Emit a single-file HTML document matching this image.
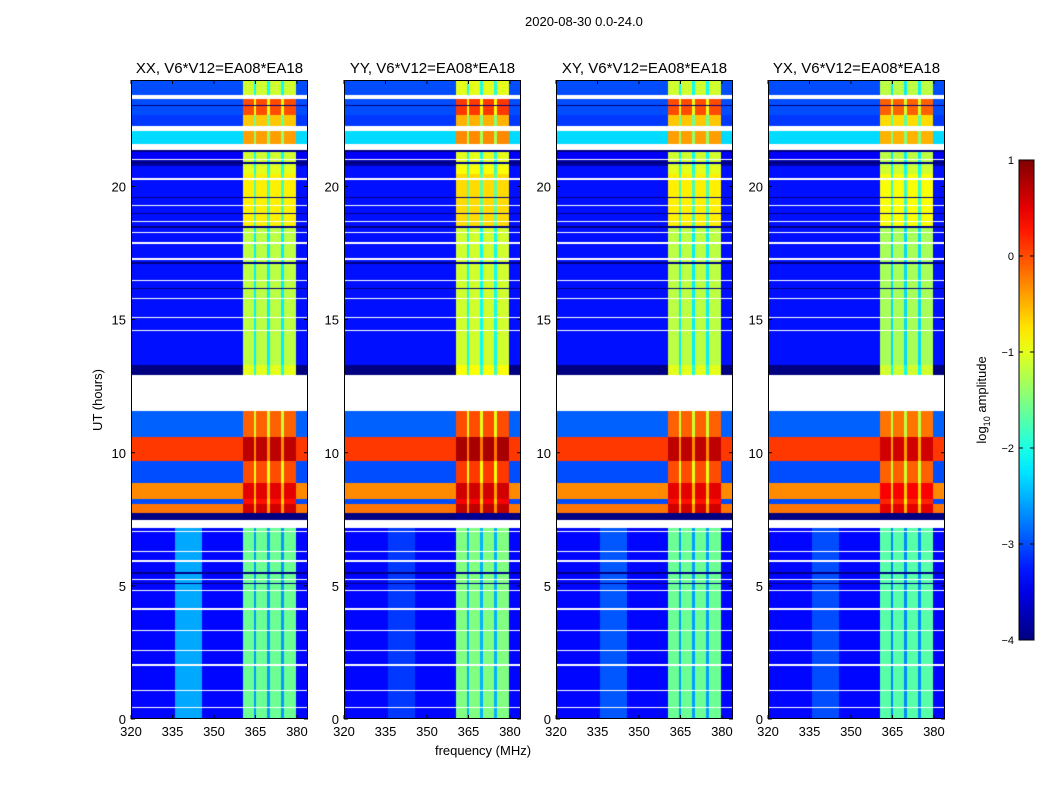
<!DOCTYPE html>
<html><head><meta charset="utf-8">
<style>
body{margin:0;background:#fff;width:1050px;height:800px;overflow:hidden;position:relative;font-family:"Liberation Sans","DejaVu Sans",sans-serif;}
.t{position:absolute;font-size:13px;color:#000;white-space:nowrap;}
canvas{position:absolute;}
</style></head>
<body>
<div class="t" style="left:525px;top:14px;">2020-08-30 0.0-24.0</div>
<svg id="axes" width="1050" height="800" style="position:absolute;left:0;top:0"></svg>
<script>
// ---- data ----
const panelTitles = ["XX, V6*V12=EA08*EA18","YY, V6*V12=EA08*EA18","XY, V6*V12=EA08*EA18","YX, V6*V12=EA08*EA18"];
const xTicks = [320,335,350,365,380];
const yTicks = [0,5,10,15,20];
const cbTicks = [1,0,-1,-2,-3,-4];
// time segments (hours): start, end, background level, band level (null = flagged/white)
const segStart = [0,   7.2, 7.5, 7.75, 8.1, 8.3, 8.9, 9.7, 10.6, 11.6, 12.95, 13.3, 18.5, 20.5, 20.8, 21.0, 21.05, 21.3, 21.4, 21.6, 22.1, 22.3, 22.7, 23.3, 23.45];
const segEnd   = [7.2, 7.5, 7.75,8.1,  8.3, 8.9, 9.7, 10.6,11.6, 12.95,13.3,  18.5, 20.5, 20.8, 21.0, 21.05,21.3, 21.4, 21.6, 22.1, 22.3, 22.7, 23.3, 23.45,24];
const segBg    = [-3.35,null,-4.3,-0.2,-3.0,-0.3,-3.0,0.1,-2.9, null, -4.0, -3.3, -3.3, -3.3, -3.8, null, -3.4, -4.5, null, -2.3, null, -3.1, -3.0, null, -3.0];
const segBand  = [-1.6,null,-4.0,0.6, 0.3, 0.5, 0.0,  0.7, -0.1, null, -1.0, -1.2, -0.8, -1.0, -1.1, null, -1.1, -4.5, null, -0.4, null, -0.6, 0.0,  null, -1.1];
const whiteLines = [0.45,1.1,2.05,2.6,3.35,4.15,4.85,5.25,5.95,6.3,7.05,14.6,15.1,15.8,16.5,17.3,17.9,18.3,18.7,19.3,20.3];
const blackLines = [5.1,5.5,16.2,17.15,18.5,19.0,19.6,20.9,23.05];
const bandLo = 360.5, bandHi = 380;
const darkChannels = [365,370,375];
const stripeLo = 336, stripeHi = 346;
const stripeStrength = [0.8,0.25,0.4,0.35];
const panelBandShift = [0,0.1,0,-0.1];
// ---- layout ----
const panelX=[131,344,556,768], PT=80, PW=177, PH=639, FMIN=320, FMAX=384;
const fx = (f,p)=>panelX[p]+(f-FMIN)/(FMAX-FMIN)*PW;
const ty = h=>PT+PH-(h/24)*PH;
function jet(v){ // v in -4..1
  let t=Math.max(0,Math.min(1,(v+4)/5));
  const c=x=>Math.round(255*Math.max(0,Math.min(1,x)));
  return `rgb(${c(1.5-Math.abs(4*t-3))},${c(1.5-Math.abs(4*t-2))},${c(1.5-Math.abs(4*t-1))})`;
}
function value(p,f,h){
  let i=segStart.findIndex((s,k)=>h>=s&&h<segEnd[k]); if(i<0)i=segStart.length-1;
  if(segBg[i]===null) return null;
  for(const w of whiteLines) if(Math.abs(h-w)<0.03) return null;
  for(const b of blackLines) if(Math.abs(h-b)<0.03) return -4.5;
  let v;
  if(f>=bandLo&&f<bandHi){ v=segBand[i]+panelBandShift[p]; if(darkChannels.some(d=>Math.abs(f-d)<0.5)) v-=1.0; }
  else { v=segBg[i]; if(h<7.2&&f>=stripeLo&&f<stripeHi) v+=stripeStrength[p]; }
  return v;
}
const svg=document.getElementById('axes'), NS="http://www.w3.org/2000/svg";
function el(tag,attrs,parent){const e=document.createElementNS(NS,tag);for(const k in attrs)e.setAttribute(k,attrs[k]);(parent||svg).appendChild(e);return e;}
function txt(x,y,s,anchor,size,parent){const e=el('text',{x:x,y:y,'text-anchor':anchor||'middle','font-size':size||13,'font-family':'Liberation Sans, sans-serif'},parent);e.textContent=s;return e;}
for(let p=0;p<4;p++){
  const cv=document.createElement('canvas');
  cv.width=PW;cv.height=PH;cv.style.left=panelX[p]+'px';cv.style.top=PT+'px';
  
  
  document.body.insertBefore(cv,svg);
  const ctx=cv.getContext('2d');
  const df=0.5, dh=0.025;
  for(let f=FMIN;f<FMAX;f+=df){
    for(let h=0;h<24;h+=dh){
      const v=value(p,f+df/2,h+dh/2);
      ctx.fillStyle = v===null?'#fff':jet(v);
      const x0=fx(f,p)-panelX[p], x1=fx(f+df,p)-panelX[p];
      const y0=ty(h+dh)-PT, y1=ty(h)-PT;
      ctx.fillRect(Math.floor(x0),Math.floor(y0),Math.ceil(x1)-Math.floor(x0),Math.ceil(y1)-Math.floor(y0));
    }
  }
  const g=el('g',{});
  
  
  const fr=el('rect',{x:panelX[p]+0.5,y:PT+0.5,width:PW-1,height:PH-1,fill:'none',stroke:'#000','stroke-width':1},g);
  
  
  const tt=txt(panelX[p]+PW/2,PT-7,panelTitles[p],'middle',15,g);
  
  
  for(const t of xTicks){const x=fx(t,p);
    el('line',{x1:x,y1:PT+PH,x2:x,y2:PT+PH-4,stroke:'#000'},g);
    el('line',{x1:x,y1:PT,x2:x,y2:PT+4,stroke:'#000'},g);
    const l=txt(x,PT+PH+17,String(t),'middle',13,g);
    
    }
  for(const t of yTicks){const y=ty(t);
    el('line',{x1:panelX[p],y1:y,x2:panelX[p]+4,y2:y,stroke:'#000'},g);
    el('line',{x1:panelX[p]+PW,y1:y,x2:panelX[p]+PW-4,y2:y,stroke:'#000'},g);
    const l=txt(panelX[p]-5,y+5,String(t),'end',13,g);
    
    }
}
const yl=txt(0,0,'UT (hours)','middle',13);
yl.setAttribute('transform','translate(102,400) rotate(-90)');


const xl=txt(483,755,'frequency (MHz)','middle',13);


// colorbar
const CBX=1019,CBT=160,CBW=15,CBH=480;
const defs=el('defs',{});const gr=el('linearGradient',{id:'jetg',x1:0,y1:1,x2:0,y2:0},defs);
for(let i=0;i<=20;i++){el('stop',{offset:i/20,'stop-color':jet(-4+5*i/20)},gr);}
const cb=el('rect',{x:CBX,y:CBT,width:CBW,height:CBH,fill:'url(#jetg)',stroke:'#000'});


for(const t of cbTicks){const y=CBT+(1-t)/5*CBH;
  el('line',{x1:CBX,y1:y,x2:CBX+4,y2:y,stroke:'#000'});
  el('line',{x1:CBX+CBW,y1:y,x2:CBX+CBW-4,y2:y,stroke:'#000'});
  const l=txt(CBX-5,y+4,t<0?'\u2212'+(-t):String(t),'end',11);
  
  }
const cl=el('text',{'text-anchor':'middle','font-size':13,'font-family':'Liberation Sans, sans-serif',transform:'translate(986,400) rotate(-90)'});
cl.innerHTML='log<tspan font-size="9" dy="4">10</tspan><tspan dy="-4"> amplitude</tspan>';


</script>
</body></html>
